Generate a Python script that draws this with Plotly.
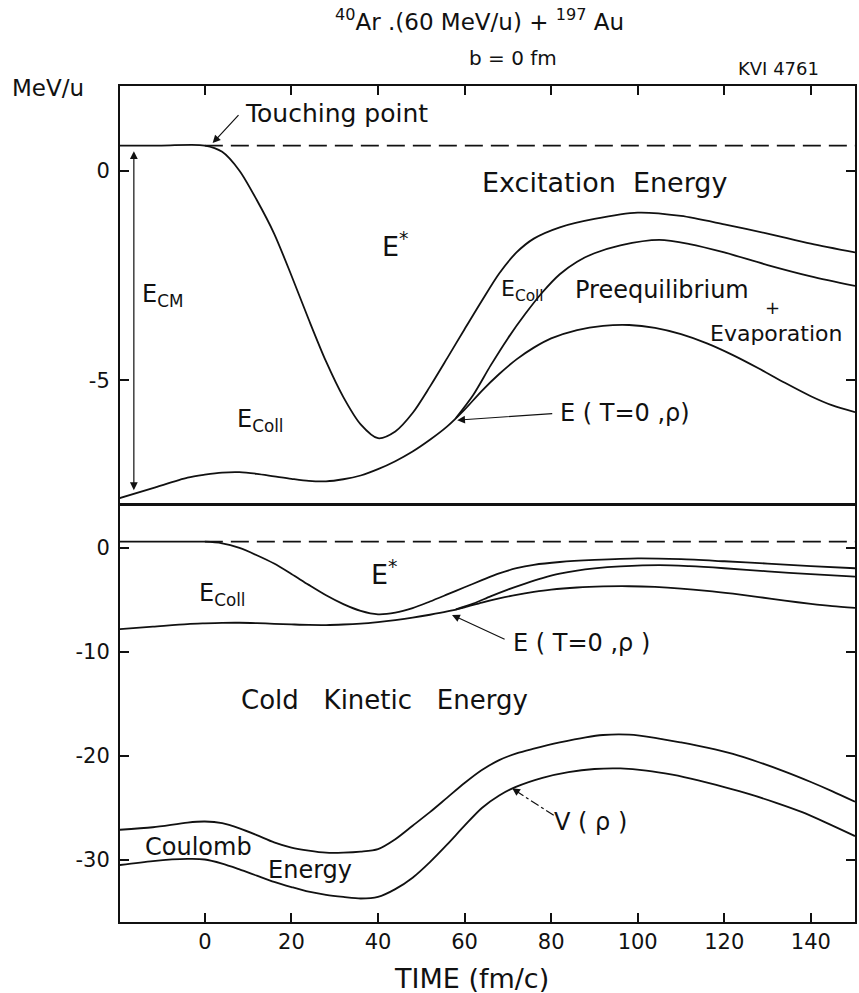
import plotly.graph_objects as go

# ---------------- data ----------------
TOUCH_Y = 0.6
DASH_X = [0, 150.2]

# Upper boundary of the excitation region (E_Coll + E(T=0,rho))
A_X = [-20, -10, 0, 4, 8, 12, 16, 20, 24, 28, 32, 36, 40, 44, 48, 52, 56, 60, 64,
       68, 72, 76, 82, 90, 100, 110, 120, 130, 140, 150.2]
A_Y = [0.6, 0.6, 0.6, 0.45, 0.0, -0.70, -1.50, -2.50, -3.55, -4.55, -5.40, -6.05,
       -6.38, -6.22, -5.78, -5.15, -4.47, -3.78, -3.10, -2.45, -1.95, -1.62, -1.35,
       -1.15, -1.0, -1.08, -1.28, -1.50, -1.74, -1.95]

# Preequilibrium + evaporation boundary
B_X = [58, 62, 66, 70, 74, 78, 82, 86, 90, 96, 105, 112, 120, 130, 140, 150.2]
B_Y = [-5.90, -5.35, -4.65, -4.0, -3.42, -2.90, -2.47, -2.17, -1.97, -1.78, -1.65,
       -1.75, -1.95, -2.25, -2.52, -2.75]

# E(T=0, rho)
C_X = [-20, -12, -4, 0, 4, 8, 12, 16, 20, 24, 28, 32, 36, 40, 44, 48, 52, 56, 60, 64,
       68, 72, 76, 80, 86, 92, 98, 104, 110, 116, 122, 128, 134, 140, 145, 150.2]
C_Y = [-7.82, -7.57, -7.32, -7.25, -7.20, -7.19, -7.23, -7.29, -7.35, -7.40, -7.41,
       -7.36, -7.27, -7.12, -6.93, -6.70, -6.42, -6.10, -5.70, -5.25, -4.85, -4.50,
       -4.22, -4.00, -3.80, -3.70, -3.68, -3.75, -3.90, -4.12, -4.40, -4.72, -5.06,
       -5.38, -5.60, -5.76]

# Cold kinetic energy lower boundary (upper Coulomb curve)
D_X = [-20, -12, -4, 0, 4, 8, 12, 16, 20, 24, 28, 32, 36, 40, 44, 48, 52, 56, 60, 64,
       68, 72, 76, 82, 88, 92, 98, 104, 110, 116, 122, 128, 134, 140, 145, 150.2]
D_Y = [-27.1, -26.85, -26.4, -26.3, -26.45, -26.95, -27.6, -28.3, -28.8, -29.1, -29.3,
       -29.3, -29.2, -28.95, -28.0, -26.7, -25.4, -24.0, -22.6, -21.35, -20.4, -19.75,
       -19.3, -18.7, -18.2, -17.98, -17.95, -18.25, -18.7, -19.2, -19.8, -20.6,
       -21.5, -22.5, -23.4, -24.4]

# V(rho)
E_X = [-20, -12, -4, 0, 4, 8, 12, 16, 20, 24, 28, 32, 36, 40, 44, 48, 52, 56, 60, 64,
       68, 72, 78, 84, 90, 96, 102, 108, 114, 120, 126, 132, 138, 144, 150.2]
E_Y = [-30.5, -30.1, -29.9, -29.95, -30.35, -30.9, -31.5, -32.1, -32.6, -33.05, -33.35,
       -33.55, -33.7, -33.55, -32.8, -31.7, -30.2, -28.5, -26.7, -25.0, -23.8, -22.95,
       -22.1, -21.55, -21.25, -21.2, -21.4, -21.8, -22.35, -23.0, -23.7, -24.5, -25.4,
       -26.5, -27.7]

X_TICKS = [0, 20, 40, 60, 80, 100, 120, 140]
X_TICK_TEXT = ["0", "20", "40", "60", "80", "100", "120", "140"]
TOP_Y_TICKS = [0, -5]
TOP_Y_TEXT = ["0", "-5"]
BOT_Y_TICKS = [0, -10, -20, -30]
BOT_Y_TEXT = ["0", "-10", "-20", "-30"]

FONT = "DejaVu Sans"
BLACK = "#111111"

fig = go.Figure()


def curve(x, y, xa, ya, dash="solid", shape="spline"):
    fig.add_trace(go.Scatter(x=x, y=y, mode="lines", xaxis=xa, yaxis=ya,
                             line=dict(color=BLACK, width=1.8, dash=dash, shape=shape,
                                       smoothing=0.8),
                             showlegend=False, hoverinfo="skip"))


for xa, ya in (("x2", "y2"), ("x", "y")):
    curve(DASH_X, [TOUCH_Y, TOUCH_Y], xa, ya, dash="18px,8px", shape="linear")
    curve(A_X, A_Y, xa, ya)
    curve(B_X, B_Y, xa, ya)
    curve(C_X, C_Y, xa, ya)
curve(D_X, D_Y, "x", "y")
curve(E_X, E_Y, "x", "y")

tick_style = dict(showline=True, linecolor=BLACK, linewidth=2,
                  ticks="inside", ticklen=9, tickwidth=1.5, tickcolor=BLACK,
                  showgrid=False, zeroline=False,
                  tickfont=dict(family=FONT, size=21, color=BLACK))

fig.update_layout(
    width=859, height=993,
    margin=dict(l=120, r=2, t=86, b=71),
    paper_bgcolor="white", plot_bgcolor="white",
    font=dict(family=FONT, color=BLACK),
    xaxis=dict(domain=[0, 1], range=[-19.6, 150.2], anchor="y", mirror=True,
               tickvals=X_TICKS, ticktext=X_TICK_TEXT, ticklabelstandoff=0,
               **tick_style),
    xaxis2=dict(domain=[0, 1], range=[-19.6, 150.2], anchor="y2", matches="x",
                side="top", mirror=True,
                tickvals=X_TICKS, showticklabels=False, **tick_style),
    yaxis=dict(domain=[0, 0.4988], range=[-35.96, 4.13], anchor="x", mirror="ticks",
               tickvals=BOT_Y_TICKS, ticktext=BOT_Y_TEXT, ticklabelstandoff=4,
               **tick_style),
    yaxis2=dict(domain=[0.5, 1], range=[-7.95, 2.02], anchor="x2", mirror="ticks",
                tickvals=TOP_Y_TICKS, ticktext=TOP_Y_TEXT, ticklabelstandoff=4,
                **tick_style),
)

ann = []


def text(x, y, s, size=24, xref="x2", yref="y2", xanchor="center"):
    ann.append(dict(x=x, y=y, xref=xref, yref=yref, text=s, showarrow=False,
                    xanchor=xanchor, yanchor="middle",
                    font=dict(family=FONT, size=size, color=BLACK)))


def arrow(x, y, ax, ay, xref="x2", yref="y2", side="end"):
    ann.append(dict(x=x, y=y, ax=ax, ay=ay, xref=xref, yref=yref, axref=xref,
                    ayref=yref, text="", showarrow=True, arrowhead=2, arrowsize=1.3,
                    arrowwidth=1.2, arrowcolor=BLACK, arrowside=side))


# titles
text(0.4885, 1.079, "<sup>40</sup>Ar .(60 MeV/u) + <sup>197</sup> Au", size=23,
     xref="paper", yref="paper")
text(0.535, 1.033, "b = 0 fm", size=20, xref="paper", yref="paper")
text(0.8955, 1.0215, "KVI 4761", size=18, xref="paper", yref="paper")
text(-0.098, 0.998, "MeV/u", size=23, xref="paper", yref="paper")
text(0.4776, -0.067, "TIME (fm/c)", size=27, xref="paper", yref="paper")

# top panel
text(8.8, 1.36, "Touching point", size=25, xanchor="left")
arrow(1.8, 0.66, 8.1, 1.36)
text(92.4, -0.29, "Excitation  Energy", size=27)
text(40.5, -1.77, "E<sup>*</sup>", size=27, xanchor="left")
text(-15.0, -2.97, "E<sub>CM</sub>", size=24, xanchor="left")
arrow(-16.4, -7.62, -16.4, 0.5, side="end+start")
text(6.9, -5.95, "E<sub>Coll</sub>", size=24, xanchor="left")
text(68.0, -2.85, "E<sub>Coll</sub>", size=22, xanchor="left")
text(105.5, -2.85, "Preequilibrium", size=24)
text(131.1, -3.27, "+", size=18)
text(132.0, -3.88, "Evaporation", size=22)
text(81.5, -5.79, "E ( T=0 ,ρ)", size=24, xanchor="left")
arrow(58.3, -5.95, 80.6, -5.79)

# bottom panel
text(38.0, -2.4, "E<sup>*</sup>", size=27, xref="x", yref="y", xanchor="left")
text(-1.8, -4.5, "E<sub>Coll</sub>", size=24, xref="x", yref="y", xanchor="left")
text(70.7, -9.1, "E ( T=0 ,ρ )", size=24, xref="x", yref="y", xanchor="left")
arrow(57.1, -6.44, 69.6, -8.85, xref="x", yref="y")
text(41.5, -14.6, "Cold   Kinetic   Energy", size=26, xref="x", yref="y")
text(-1.4, -28.75, "Coulomb", size=24, xref="x", yref="y")
text(24.4, -31.0, "Energy", size=24, xref="x", yref="y")
text(89.2, -26.3, "V ( ρ )", size=24, xref="x", yref="y")
fig.add_shape(type="line", x0=80.6, y0=-25.7, x1=72.0, y1=-23.4, xref="x", yref="y",
              line=dict(color=BLACK, width=1.2, dash="dashdot"))
arrow(71.0, -23.1, 72.6, -23.55, xref="x", yref="y")

fig.update_layout(annotations=ann)
fig.write_html("out.html")
